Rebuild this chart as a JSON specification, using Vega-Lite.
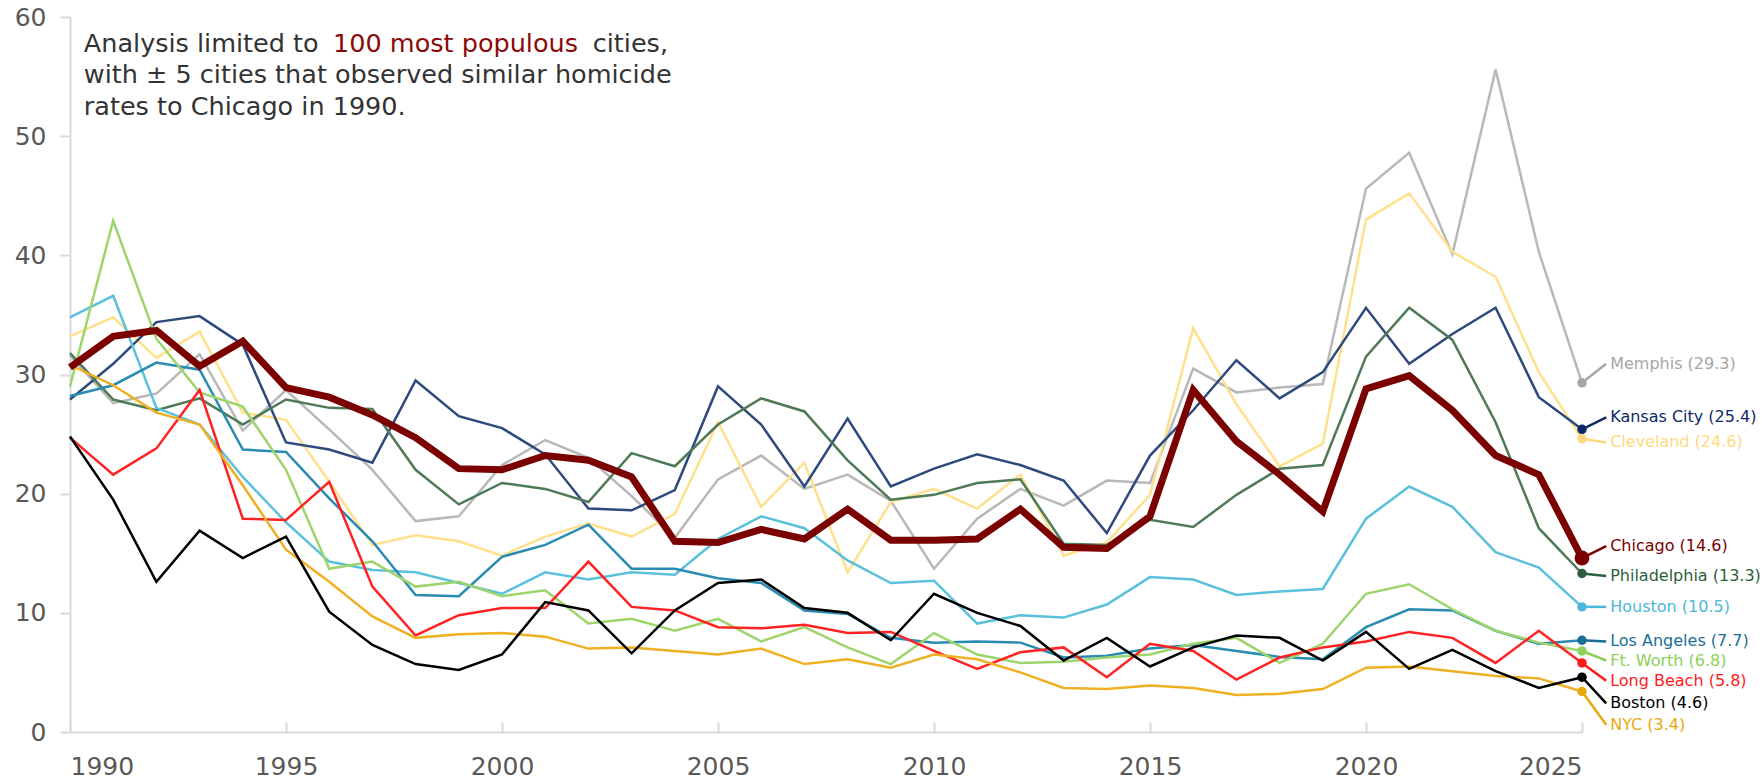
{
  "$schema": "https://vega.github.io/schema/vega-lite/v6.json",
  "autosize": {"type": "none"},
  "padding": {"left": 70, "top": 17, "right": 180, "bottom": 49},
  "width": 1512,
  "height": 715,
  "background": "#ffffff",
  "config": {"view": {"stroke": null}, "font": "DejaVu Sans"},
  "datasets": {
    "rates": [
      {"year":1990,"Chicago":30.6,"Memphis":31.6,"Kansas City":27.9,"Cleveland":33.2,"Philadelphia":31.8,"Houston":34.8,"Los Angeles":28.2,"Ft Worth":29.0,"Long Beach":24.7,"Boston":24.8,"NYC":30.8},
      {"year":1991,"Chicago":33.2,"Memphis":27.6,"Kansas City":30.9,"Cleveland":34.8,"Philadelphia":27.9,"Houston":36.6,"Los Angeles":29.1,"Ft Worth":42.9,"Long Beach":21.6,"Boston":19.5,"NYC":29.1},
      {"year":1992,"Chicago":33.7,"Memphis":28.4,"Kansas City":34.4,"Cleveland":31.4,"Philadelphia":27.0,"Houston":27.2,"Los Angeles":31.0,"Ft Worth":33.0,"Long Beach":23.8,"Boston":12.6,"NYC":26.8},
      {"year":1993,"Chicago":30.7,"Memphis":31.7,"Kansas City":34.9,"Cleveland":33.6,"Philadelphia":28.0,"Houston":25.8,"Los Angeles":30.4,"Ft Worth":28.5,"Long Beach":28.7,"Boston":16.9,"NYC":25.8},
      {"year":1994,"Chicago":32.8,"Memphis":25.3,"Kansas City":32.5,"Cleveland":26.8,"Philadelphia":25.8,"Houston":21.4,"Los Angeles":23.7,"Ft Worth":27.3,"Long Beach":17.9,"Boston":14.6,"NYC":20.7},
      {"year":1995,"Chicago":28.9,"Memphis":28.7,"Kansas City":24.3,"Cleveland":26.2,"Philadelphia":27.9,"Houston":17.6,"Los Angeles":23.5,"Ft Worth":22.0,"Long Beach":17.8,"Boston":16.4,"NYC":15.3},
      {"year":1996,"Chicago":28.1,"Memphis":25.4,"Kansas City":23.7,"Cleveland":21.0,"Philadelphia":27.2,"Houston":14.3,"Los Angeles":19.6,"Ft Worth":13.7,"Long Beach":21.0,"Boston":10.1,"NYC":12.6},
      {"year":1997,"Chicago":26.6,"Memphis":22.0,"Kansas City":22.6,"Cleveland":15.7,"Philadelphia":27.1,"Houston":13.6,"Los Angeles":16.0,"Ft Worth":14.3,"Long Beach":12.2,"Boston":7.3,"NYC":9.7},
      {"year":1998,"Chicago":24.7,"Memphis":17.7,"Kansas City":29.5,"Cleveland":16.5,"Philadelphia":22.0,"Houston":13.4,"Los Angeles":11.5,"Ft Worth":12.2,"Long Beach":8.1,"Boston":5.7,"NYC":7.9},
      {"year":1999,"Chicago":22.1,"Memphis":18.1,"Kansas City":26.5,"Cleveland":16.0,"Philadelphia":19.1,"Houston":12.5,"Los Angeles":11.4,"Ft Worth":12.6,"Long Beach":9.8,"Boston":5.2,"NYC":8.2},
      {"year":2000,"Chicago":22.0,"Memphis":22.4,"Kansas City":25.5,"Cleveland":14.8,"Philadelphia":20.9,"Houston":11.6,"Los Angeles":14.7,"Ft Worth":11.4,"Long Beach":10.4,"Boston":6.5,"NYC":8.3},
      {"year":2001,"Chicago":23.2,"Memphis":24.5,"Kansas City":23.3,"Cleveland":16.4,"Philadelphia":20.4,"Houston":13.4,"Los Angeles":15.7,"Ft Worth":11.9,"Long Beach":10.4,"Boston":10.9,"NYC":8.0},
      {"year":2002,"Chicago":22.8,"Memphis":23.0,"Kansas City":18.75,"Cleveland":17.5,"Philadelphia":19.3,"Houston":12.8,"Los Angeles":17.4,"Ft Worth":9.1,"Long Beach":14.3,"Boston":10.2,"NYC":7.0},
      {"year":2003,"Chicago":21.4,"Memphis":19.8,"Kansas City":18.6,"Cleveland":16.4,"Philadelphia":23.4,"Houston":13.4,"Los Angeles":13.7,"Ft Worth":9.5,"Long Beach":10.5,"Boston":6.6,"NYC":7.1},
      {"year":2004,"Chicago":16.0,"Memphis":16.3,"Kansas City":20.3,"Cleveland":18.3,"Philadelphia":22.3,"Houston":13.2,"Los Angeles":13.7,"Ft Worth":8.5,"Long Beach":10.2,"Boston":10.2,"NYC":6.8},
      {"year":2005,"Chicago":15.9,"Memphis":21.2,"Kansas City":29.0,"Cleveland":26.0,"Philadelphia":25.8,"Houston":16.2,"Los Angeles":12.9,"Ft Worth":9.5,"Long Beach":8.8,"Boston":12.5,"NYC":6.5},
      {"year":2006,"Chicago":17.0,"Memphis":23.2,"Kansas City":25.8,"Cleveland":18.9,"Philadelphia":28.0,"Houston":18.1,"Los Angeles":12.5,"Ft Worth":7.6,"Long Beach":8.7,"Boston":12.8,"NYC":7.0},
      {"year":2007,"Chicago":16.2,"Memphis":20.4,"Kansas City":20.6,"Cleveland":22.6,"Philadelphia":26.9,"Houston":17.1,"Los Angeles":10.2,"Ft Worth":8.8,"Long Beach":9.0,"Boston":10.4,"NYC":5.7},
      {"year":2008,"Chicago":18.7,"Memphis":21.6,"Kansas City":26.3,"Cleveland":13.4,"Philadelphia":22.8,"Houston":14.4,"Los Angeles":9.9,"Ft Worth":7.1,"Long Beach":8.3,"Boston":10.0,"NYC":6.1},
      {"year":2009,"Chicago":16.1,"Memphis":19.4,"Kansas City":20.6,"Cleveland":19.3,"Philadelphia":19.5,"Houston":12.5,"Los Angeles":7.9,"Ft Worth":5.7,"Long Beach":8.4,"Boston":7.7,"NYC":5.4},
      {"year":2010,"Chicago":16.1,"Memphis":13.7,"Kansas City":22.1,"Cleveland":20.4,"Philadelphia":19.9,"Houston":12.7,"Los Angeles":7.5,"Ft Worth":8.3,"Long Beach":6.8,"Boston":11.6,"NYC":6.5},
      {"year":2011,"Chicago":16.2,"Memphis":17.9,"Kansas City":23.3,"Cleveland":18.75,"Philadelphia":20.9,"Houston":9.1,"Los Angeles":7.6,"Ft Worth":6.5,"Long Beach":5.3,"Boston":10.0,"NYC":6.1},
      {"year":2012,"Chicago":18.7,"Memphis":20.4,"Kansas City":22.4,"Cleveland":21.6,"Philadelphia":21.2,"Houston":9.8,"Los Angeles":7.5,"Ft Worth":5.8,"Long Beach":6.7,"Boston":8.9,"NYC":5.0},
      {"year":2013,"Chicago":15.5,"Memphis":19.0,"Kansas City":21.1,"Cleveland":14.8,"Philadelphia":15.8,"Houston":9.6,"Los Angeles":6.25,"Ft Worth":5.9,"Long Beach":7.1,"Boston":6.0,"NYC":3.7},
      {"year":2014,"Chicago":15.4,"Memphis":21.1,"Kansas City":16.7,"Cleveland":15.9,"Philadelphia":15.7,"Houston":10.7,"Los Angeles":6.4,"Ft Worth":6.25,"Long Beach":4.6,"Boston":7.9,"NYC":3.6},
      {"year":2015,"Chicago":18.1,"Memphis":20.9,"Kansas City":23.2,"Cleveland":19.9,"Philadelphia":17.8,"Houston":13.0,"Los Angeles":7.0,"Ft Worth":6.5,"Long Beach":7.4,"Boston":5.5,"NYC":3.9},
      {"year":2016,"Chicago":28.7,"Memphis":30.5,"Kansas City":27.0,"Cleveland":33.9,"Philadelphia":17.2,"Houston":12.8,"Los Angeles":7.3,"Ft Worth":7.4,"Long Beach":6.8,"Boston":7.1,"NYC":3.7},
      {"year":2017,"Chicago":24.4,"Memphis":28.5,"Kansas City":31.2,"Cleveland":27.5,"Philadelphia":19.9,"Houston":11.5,"Los Angeles":6.8,"Ft Worth":7.9,"Long Beach":4.4,"Boston":8.1,"NYC":3.1},
      {"year":2018,"Chicago":21.6,"Memphis":28.9,"Kansas City":28.0,"Cleveland":22.3,"Philadelphia":22.1,"Houston":11.8,"Los Angeles":6.3,"Ft Worth":5.8,"Long Beach":6.25,"Boston":7.9,"NYC":3.2},
      {"year":2019,"Chicago":18.5,"Memphis":29.2,"Kansas City":30.2,"Cleveland":24.2,"Philadelphia":22.4,"Houston":12.0,"Los Angeles":6.1,"Ft Worth":7.4,"Long Beach":7.1,"Boston":6.0,"NYC":3.6},
      {"year":2020,"Chicago":28.8,"Memphis":45.6,"Kansas City":35.6,"Cleveland":43.0,"Philadelphia":31.5,"Houston":17.9,"Los Angeles":8.8,"Ft Worth":11.6,"Long Beach":7.6,"Boston":8.4,"NYC":5.4},
      {"year":2021,"Chicago":29.9,"Memphis":48.6,"Kansas City":30.9,"Cleveland":45.2,"Philadelphia":35.6,"Houston":20.6,"Los Angeles":10.3,"Ft Worth":12.4,"Long Beach":8.4,"Boston":5.3,"NYC":5.5},
      {"year":2022,"Chicago":27.0,"Memphis":40.1,"Kansas City":33.4,"Cleveland":40.3,"Philadelphia":32.9,"Houston":18.9,"Los Angeles":10.2,"Ft Worth":10.3,"Long Beach":7.9,"Boston":6.9,"NYC":5.1},
      {"year":2023,"Chicago":23.2,"Memphis":55.6,"Kansas City":35.6,"Cleveland":38.2,"Philadelphia":26.0,"Houston":15.1,"Los Angeles":8.5,"Ft Worth":8.5,"Long Beach":5.8,"Boston":5.1,"NYC":4.7},
      {"year":2024,"Chicago":21.6,"Memphis":40.3,"Kansas City":28.1,"Cleveland":30.2,"Philadelphia":17.1,"Houston":13.8,"Los Angeles":7.4,"Ft Worth":7.5,"Long Beach":8.5,"Boston":3.7,"NYC":4.5},
      {"year":2025,"Chicago":14.6,"Memphis":29.3,"Kansas City":25.4,"Cleveland":24.6,"Philadelphia":13.3,"Houston":10.5,"Los Angeles":7.7,"Ft Worth":6.8,"Long Beach":5.8,"Boston":4.6,"NYC":3.4}
    ],
    "ends": [
      {"city":"Memphis","year":2025,"rate":29.3,"labelY":30.9,"label":"Memphis (29.3)"},
      {"city":"Kansas City","year":2025,"rate":25.4,"labelY":26.4,"label":"Kansas City (25.4)"},
      {"city":"Cleveland","year":2025,"rate":24.6,"labelY":24.3,"label":"Cleveland (24.6)"},
      {"city":"Chicago","year":2025,"rate":14.6,"labelY":15.6,"label":"Chicago (14.6)"},
      {"city":"Philadelphia","year":2025,"rate":13.3,"labelY":13.1,"label":"Philadelphia (13.3)"},
      {"city":"Houston","year":2025,"rate":10.5,"labelY":10.5,"label":"Houston (10.5)"},
      {"city":"Los Angeles","year":2025,"rate":7.7,"labelY":7.6,"label":"Los Angeles (7.7)"},
      {"city":"Ft Worth","year":2025,"rate":6.8,"labelY":6.0,"label":"Ft. Worth (6.8)"},
      {"city":"Long Beach","year":2025,"rate":5.8,"labelY":4.3,"label":"Long Beach (5.8)"},
      {"city":"Boston","year":2025,"rate":4.6,"labelY":2.4,"label":"Boston (4.6)"},
      {"city":"NYC","year":2025,"rate":3.4,"labelY":0.6,"label":"NYC (3.4)"}
    ],
    "noteDark": [
      {"text":"Analysis limited to","x":1990.32,"y":57.1},
      {"text":"cities,","x":2002.1,"y":57.1},
      {"text":"with ± 5 cities that observed similar homicide","x":1990.32,"y":54.5},
      {"text":"rates to Chicago in 1990.","x":1990.32,"y":51.8}
    ],
    "noteRed": [
      {"text":"100 most populous","x":1996.09,"y":57.1}
    ]
  },
  "resolve": {"scale": {"color": "independent"}},
  "layer": [
    {
      "data": {"name": "rates"},
      "transform": [
        {"fold": ["Memphis","Cleveland","Kansas City","Philadelphia","Houston","Los Angeles","Ft Worth","Long Beach","NYC","Boston"], "as": ["city","rate"]}
      ],
      "mark": {"type": "line", "strokeWidth": 2.5},
      "encoding": {
        "x": {"field": "year", "type": "quantitative",
              "scale": {"domain": [1990, 2025], "nice": false, "zero": false},
              "axis": {"title": null, "values": [1990,1995,2000,2005,2010,2015,2020,2025], "format": "d", "grid": false,
                       "domainColor": "#d9d9d9", "domainWidth": 2, "tickColor": "#d9d9d9", "tickWidth": 2, "tickSize": -10,
                       "labelFontSize": 25, "labelColor": "#595959", "labelFont": "DejaVu Sans", "labelPadding": 32}},
        "y": {"field": "rate", "type": "quantitative",
              "scale": {"domain": [0, 60], "nice": false},
              "axis": {"title": null, "values": [0,10,20,30,40,50,60], "grid": false,
                       "domainColor": "#d9d9d9", "domainWidth": 2, "tickColor": "#d9d9d9", "tickWidth": 2, "tickSize": 10,
                       "labelFontSize": 25, "labelColor": "#595959", "labelFont": "DejaVu Sans", "labelPadding": 14}},
        "color": {"field": "city", "type": "nominal", "legend": null,
                  "scale": {"domain": ["Memphis","Kansas City","Cleveland","Chicago","Philadelphia","Houston","Los Angeles","Ft Worth","Long Beach","Boston","NYC"],
                            "range": ["#b8b8b8","#2e4a7d","#ffe08c","#7b0000","#4f7a57","#5bc0dc","#2a8bb2","#9dd56c","#ff2222","#000000","#f0b024"]}},
        "detail": {"field": "city"}
      }
    },
    {
      "data": {"name": "rates"},
      "mark": {"type": "line", "strokeWidth": 7, "color": "#7b0000"},
      "encoding": {
        "x": {"field": "year", "type": "quantitative"},
        "y": {"field": "Chicago", "type": "quantitative"}
      }
    },
    {
      "data": {"name": "ends"},
      "mark": {"type": "rule", "strokeWidth": 2.5},
      "encoding": {
        "x": {"field": "year", "type": "quantitative"},
        "y": {"field": "rate", "type": "quantitative"},
        "x2": {"datum": 2025.56},
        "y2": {"field": "labelY"},
        "color": {"field": "city", "type": "nominal", "legend": null,
                  "scale": {"domain": ["Memphis","Kansas City","Cleveland","Chicago","Philadelphia","Houston","Los Angeles","Ft Worth","Long Beach","Boston","NYC"],
                            "range": ["#a6a6a6","#0e2a66","#ffd97f","#7a0000","#2d5e3a","#4bb8d8","#1b6e96","#8cd05a","#ff1a1a","#000000","#e8a90e"]}}
      }
    },
    {
      "data": {"name": "ends"},
      "transform": [{"filter": "datum.city != 'Chicago'"}],
      "mark": {"type": "circle", "size": 90, "opacity": 1},
      "encoding": {
        "x": {"field": "year", "type": "quantitative"},
        "y": {"field": "rate", "type": "quantitative"},
        "color": {"field": "city", "type": "nominal", "legend": null,
                  "scale": {"domain": ["Memphis","Kansas City","Cleveland","Chicago","Philadelphia","Houston","Los Angeles","Ft Worth","Long Beach","Boston","NYC"],
                            "range": ["#a6a6a6","#0e2a66","#ffd97f","#7a0000","#2d5e3a","#4bb8d8","#1b6e96","#8cd05a","#ff1a1a","#000000","#e8a90e"]}}
      }
    },
    {
      "data": {"name": "ends"},
      "transform": [{"filter": "datum.city == 'Chicago'"}],
      "mark": {"type": "circle", "size": 220, "opacity": 1, "color": "#7a0000"},
      "encoding": {
        "x": {"field": "year", "type": "quantitative"},
        "y": {"field": "rate", "type": "quantitative"}
      }
    },
    {
      "data": {"name": "ends"},
      "mark": {"type": "text", "align": "left", "baseline": "middle", "dx": 4, "fontSize": 16, "font": "DejaVu Sans"},
      "encoding": {
        "x": {"datum": 2025.56},
        "y": {"field": "labelY", "type": "quantitative"},
        "text": {"field": "label"},
        "color": {"field": "city", "type": "nominal", "legend": null,
                  "scale": {"domain": ["Memphis","Kansas City","Cleveland","Chicago","Philadelphia","Houston","Los Angeles","Ft Worth","Long Beach","Boston","NYC"],
                            "range": ["#a6a6a6","#0e2a66","#ffd97f","#7a0000","#2d5e3a","#4bb8d8","#1b6e96","#8cd05a","#ff1a1a","#000000","#e8a90e"]}}
      }
    },
    {
      "data": {"name": "noteDark"},
      "mark": {"type": "text", "align": "left", "baseline": "alphabetic", "fontSize": 25.5, "font": "DejaVu Sans", "color": "#333333"},
      "encoding": {
        "x": {"field": "x", "type": "quantitative"},
        "y": {"field": "y", "type": "quantitative"},
        "text": {"field": "text"}
      }
    },
    {
      "data": {"name": "noteRed"},
      "mark": {"type": "text", "align": "left", "baseline": "alphabetic", "fontSize": 25.5, "font": "DejaVu Sans", "color": "#8b0a0a"},
      "encoding": {
        "x": {"field": "x", "type": "quantitative"},
        "y": {"field": "y", "type": "quantitative"},
        "text": {"field": "text"}
      }
    }
  ]
}
